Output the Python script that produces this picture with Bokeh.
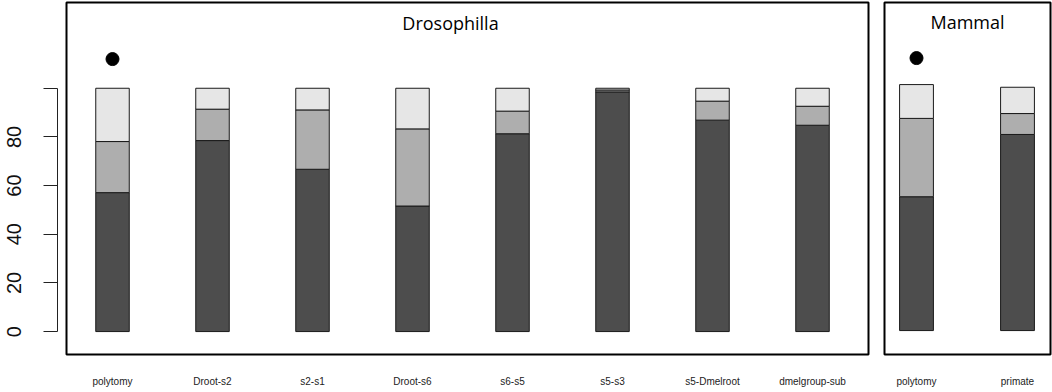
from bokeh.plotting import figure
from bokeh.models import ColumnDataSource, FixedTicker, Label, Range1d
from bokeh.layouts import row
from bokeh.embed import file_html
from bokeh.resources import INLINE

# ---------------- data ----------------
dros_title = "Drosophilla"
dros_categories = ["polytomy", "Droot-s2", "s2-s1", "Droot-s6", "s6-s5",
                   "s5-s3", "s5-Dmelroot", "dmelgroup-sub"]
dros_low = [57.1, 78.5, 66.7, 51.6, 81.3, 98.5, 86.9, 84.8]
dros_mid = [21.0, 12.9, 24.4, 31.7, 9.3, 0.8, 7.8, 7.8]
dros_high = [21.9, 8.6, 8.9, 16.7, 9.4, 0.7, 5.3, 7.4]
dros_dot_index = [0]
dros_dot_value = [112]

mam_title = "Mammal"
mam_categories = ["polytomy", "primate"]
mam_low = [55.0, 80.6]
mam_mid = [32.2, 8.6]
mam_high = [13.9, 10.8]
mam_dot_index = [0]
mam_dot_value = [112]

y_ticks = [0, 20, 40, 60, 80, 100]
y_tick_labels = ["0", "20", "40", "60", "80", ""]

# ---------------- styles / layout ----------------
COLORS = ["#4D4D4D", "#AEAEAE", "#E6E6E6"]
EDGE = "#1a1a1a"
H = 392            # canvas height
PPU = 2.44         # pixels per y unit
Y0 = 331           # canvas y pixel of value 0


def yrange(top_px, bottom_px):
    return Range1d(-(bottom_px - Y0) / PPU, (Y0 - top_px) / PPU)


def base_fig(width, xr, yr, mbl, mbr, mbt, mbb, outline=True):
    p = figure(width=width, height=H, x_range=xr, y_range=yr,
               toolbar_location=None, output_backend="svg", title=None,
               min_border_left=mbl, min_border_right=mbr,
               min_border_top=mbt, min_border_bottom=mbb,
               background_fill_color="white", border_fill_color="white")
    p.grid.visible = False
    if outline:
        p.outline_line_color = "black"
        p.outline_line_width = 2
    else:
        p.outline_line_color = None
    return p


def style_xaxis(p, cats):
    ax = p.xaxis[0]
    ax.ticker = FixedTicker(ticks=list(range(len(cats))))
    ax.major_label_overrides = {i: c for i, c in enumerate(cats)}
    ax.axis_line_color = None
    ax.major_tick_line_color = None
    ax.minor_tick_line_color = None
    ax.major_tick_out = 0
    ax.major_tick_in = 0
    ax.major_label_standoff = 21
    ax.major_label_text_font = "Liberation Sans"
    ax.major_label_text_font_size = "10px"
    ax.major_label_text_color = "#222222"


def draw_panel(p, cats, low, mid, high, dot_idx, dot_val, title, title_x):
    src = ColumnDataSource(dict(x=list(range(len(cats))), low=low, mid=mid, high=high))
    p.vbar_stack(["low", "mid", "high"], x="x", width=0.335, source=src,
                 fill_color=COLORS, line_color=EDGE, line_width=1)
    p.scatter(x=dot_idx, y=dot_val, size=13, color="black")
    p.add_layout(Label(x=title_x, y=(Y0 - 22) / PPU, text=title,
                       text_align="center", text_baseline="middle",
                       text_font="Open Sans", text_font_size="18px",
                       text_color="black"))


# Drosophilla panel: frame page x 66..868, bar centres at 112 + 100*i
xr_d = Range1d((66 - 112) / 100, (868 - 112) / 100)
yr_d = yrange(1, 354)
pd_ = base_fig(811, xr_d, yr_d, 1, 8, 1, 38)
pd_.yaxis.visible = False
style_xaxis(pd_, dros_categories)
draw_panel(pd_, dros_categories, dros_low, dros_mid, dros_high,
           dros_dot_index, dros_dot_value, dros_title, (450 - 112) / 100)

# Mammal panel: frame page x 884..1050, bar centres at 916 + 101*i
xr_m = Range1d((884 - 916) / 101, (1050 - 916) / 101)
yr_m = yrange(2, 355)
pm = base_fig(176, xr_m, yr_m, 8, 2, 2, 37)
pm.yaxis.visible = False
style_xaxis(pm, mam_categories)
draw_panel(pm, mam_categories, mam_low, mam_mid, mam_high,
           mam_dot_index, mam_dot_value, mam_title, (967 - 916) / 101)

# Y axis strip: frame page x 57..65
pa = base_fig(65, Range1d(0, 1), yr_d, 57, 0, 1, 38, outline=False)
pa.xaxis.visible = False
ya = pa.yaxis[0]
ya.ticker = FixedTicker(ticks=y_ticks)
ya.major_label_overrides = {t: l for t, l in zip(y_ticks, y_tick_labels)}
ya.bounds = (y_ticks[0], y_ticks[-1])
ya.axis_line_color = "#222222"
ya.axis_line_width = 1
ya.major_tick_line_color = "#222222"
ya.major_tick_line_width = 1
ya.major_tick_out = 14
ya.major_tick_in = 0
ya.minor_tick_line_color = None
ya.major_label_orientation = "vertical"
ya.major_label_standoff = 22
ya.major_label_text_font = "Liberation Sans"
ya.major_label_text_font_size = "20px"
ya.major_label_text_color = "#111111"

layout = row(pa, pd_, pm)
open("out.html", "w").write(file_html(layout, INLINE))
